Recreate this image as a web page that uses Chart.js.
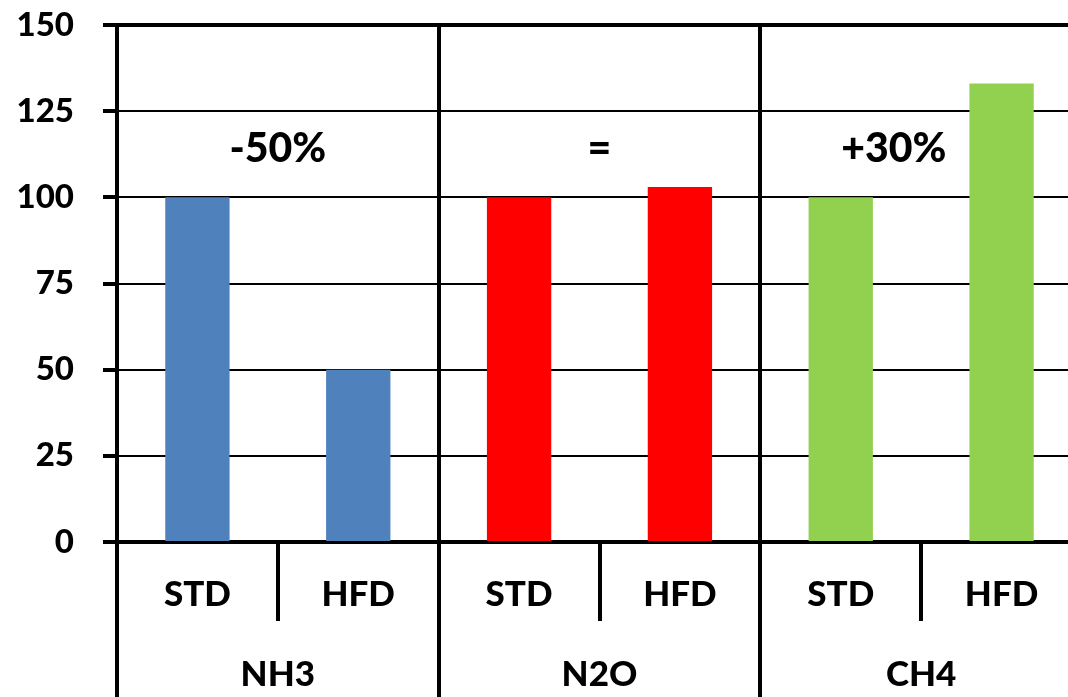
<!DOCTYPE html>
<html>
<head>
<meta charset="utf-8">
<title>NH3, N2O and CH4 emissions: STD vs HFD</title>
<script src="https://cdn.jsdelivr.net/npm/chart.js@4/dist/chart.umd.min.js"></script>
<style>
  html, body { margin: 0; padding: 0; background: #ffffff; overflow: hidden; }
  #wrap { width: 1084px; height: 697px; }
</style>
</head>
<body>
<div id="wrap"><canvas id="chart" width="1084" height="697"></canvas></div>
<script>
// Gases and diets
const gases = ['NH3', 'N2O', 'CH4'];
const diets = ['STD', 'HFD'];

// Relative emissions (STD = 100)
const nh3Values = [100, 50];
const n2oValues = [100, 103];
const ch4Values = [100, 133];

// Change from STD to HFD, one label per gas
const changeLabels = ['-50%', '=', '+30%'];

// Y axis range
const yMin = 0;
const yMax = 150;
const yStep = 25;

const gasColors = ['#4F81BD', '#FF0000', '#92D050'];

const barLabels = gases.flatMap(() => diets);
const barValues = [...nh3Values, ...n2oValues, ...ch4Values];

const FONT = 'Lato';
const WEIGHT = '900';

// Where the change labels sit (x in category units, y in data units)
const changeLabelX = [0.5, 2.5, 4.33];
const changeLabelY = 114;

const changeLabelPlugin = {
  id: 'changeLabels',
  afterDatasetsDraw(chart) {
    const {ctx, scales: {x, y}} = chart;
    ctx.save();
    ctx.fillStyle = '#000000';
    ctx.font = WEIGHT + ' 41px ' + FONT;
    ctx.textAlign = 'center';
    ctx.textBaseline = 'middle';
    changeLabels.forEach((txt, i) => {
      ctx.fillText(txt, x.getPixelForValue(changeLabelX[i]), y.getPixelForValue(changeLabelY));
    });
    ctx.restore();
  }
};

new Chart(document.getElementById('chart'), {
  type: 'bar',
  data: {
    labels: barLabels,
    datasets: [{
      data: barValues,
      backgroundColor: (c) => gasColors[Math.floor(c.dataIndex / diets.length)],
      borderWidth: 0,
      categoryPercentage: 1,
      barPercentage: 0.4
    }]
  },
  options: {
    responsive: false,
    devicePixelRatio: 1,
    animation: false,
    layout: { padding: { top: 25, right: 2, bottom: 0, left: 0 } },
    plugins: {
      legend: { display: false },
      tooltip: { enabled: false }
    },
    scales: {
      y: {
        min: yMin,
        max: yMax,
        ticks: {
          stepSize: yStep,
          color: '#000000',
          padding: 29,
          font: { family: FONT, size: 33, weight: WEIGHT }
        },
        grid: {
          color: '#000000',
          lineWidth: (c) => (c.tick && c.tick.value === yMax ? 4 : 2),
          tickLength: 14,
          tickColor: '#000000',
          tickWidth: 4
        },
        border: { color: '#000000', width: 4 },
        afterFit: (s) => {
          s.width = 117;
          s.paddingTop = 0;
          s.paddingBottom = 0;
        }
      },
      x: {
        position: 'bottom',
        offset: true,
        ticks: {
          color: '#000000',
          padding: -47,
          maxRotation: 0,
          autoSkip: false,
          font: { family: FONT, size: 35, weight: WEIGHT }
        },
        grid: {
          offset: true,
          color: (c) => (c.index === undefined || c.index % diets.length === 0 ? '#000000' : 'rgba(0,0,0,0)'),
          lineWidth: 4,
          tickLength: 79,
          tickColor: '#000000',
          tickWidth: 4
        },
        border: { color: '#000000', width: 4 },
        afterFit: (s) => { s.height = 79; }
      },
      groups: {
        type: 'category',
        position: 'bottom',
        labels: gases,
        offset: true,
        ticks: {
          color: '#000000',
          padding: -43,
          maxRotation: 0,
          autoSkip: false,
          font: { family: FONT, size: 35, weight: WEIGHT }
        },
        grid: {
          offset: true,
          drawOnChartArea: false,
          color: '#000000',
          lineWidth: 4,
          tickLength: 76,
          tickColor: '#000000',
          tickWidth: 4
        },
        border: { display: false },
        afterFit: (s) => { s.height = 76; }
      }
    }
  },
  plugins: [changeLabelPlugin]
});
</script>
</body>
</html>
